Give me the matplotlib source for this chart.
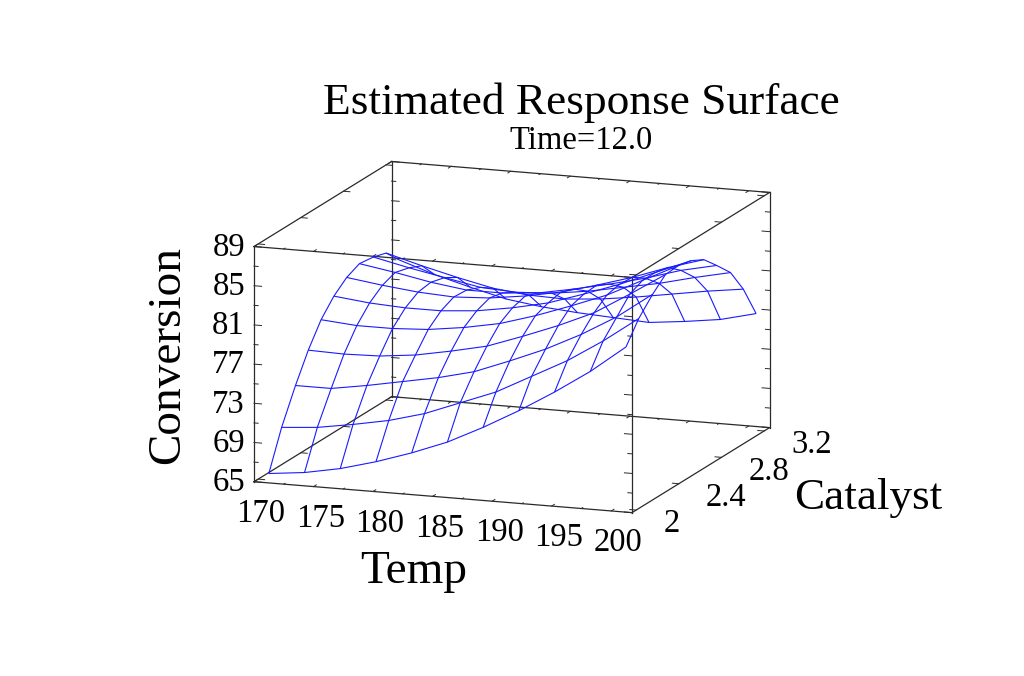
from matplotlib import pyplot as plt
from mpl_toolkits.mplot3d import proj3d
import numpy as np

plt.rcParams["font.family"] = ["Liberation Serif", "DejaVu Serif"]

temps = [170, 173, 176, 179, 182, 185, 188, 191, 194, 197, 200]
catalysts = [2.10, 2.22, 2.35, 2.47, 2.59, 2.71, 2.83, 2.95, 3.08, 3.20, 3.32]
# one row per catalyst value, one column per temp
conversion = [
    [64.9, 65.3, 66.0, 67.0, 68.2, 69.6, 71.4, 73.4, 75.6, 78.0, 80.8],
    [68.8, 69.1, 69.7, 70.4, 71.4, 72.8, 74.2, 76.1, 78.0, 80.3, 82.9],
    [72.2, 72.2, 72.8, 73.5, 74.2, 75.1, 76.5, 78.0, 79.8, 81.9, 84.5],
    [75.0, 74.9, 75.0, 75.4, 76.1, 76.9, 78.2, 79.6, 81.2, 83.4, 85.7],
    [77.3, 77.0, 77.0, 77.2, 77.7, 78.4, 79.5, 80.8, 82.2, 84.0, 85.8],
    [78.9, 78.5, 78.3, 78.3, 78.6, 79.2, 80.0, 81.2, 82.5, 84.0, 85.5],
    [80.0, 79.5, 79.1, 78.9, 79.1, 79.6, 80.3, 81.3, 82.4, 83.7, 84.8],
    [80.6, 80.0, 79.3, 78.8, 78.8, 79.1, 79.8, 80.6, 81.5, 82.6, 83.4],
    [80.4, 79.6, 78.9, 78.2, 78.0, 78.2, 78.7, 79.4, 80.1, 81.0, 81.8],
    [80.0, 79.0, 78.1, 77.3, 76.9, 76.8, 77.1, 77.6, 78.2, 78.8, 79.3],
    [78.5, 77.3, 76.3, 75.4, 74.9, 74.6, 74.4, 74.2, 74.6, 75.1, 76.0],
]

temp_ticks = [170, 175, 180, 185, 190, 195, 200]
temp_minor = [172.5, 177.5, 182.5, 187.5, 192.5, 197.5]
catalyst_ticks = [2, 2.4, 2.8, 3.2]
catalyst_labels = ["2", "2.4", "2.8", "3.2"]
conv_ticks = [65, 69, 73, 77, 81, 85, 89]
conv_minor = [67, 71, 75, 79, 83, 87]

xlim = (170, 201.75)
ylim = (1.961, 3.251)
zlim = (65, 89)

W, H = 1024, 676
EDGE = "#2a2a2a"
fig = plt.figure(figsize=(W / 100, H / 100), dpi=100)
ax = fig.add_axes([0.16, 0, H / W, 1], projection="3d", proj_type="ortho")
ax.view_init(elev=13, azim=-70)
ax.set_xlim(*xlim)
ax.set_ylim(*ylim)
ax.set_zlim(*zlim)
ax.set_box_aspect((1, 1, 0.6))
ax.set_axis_off()
ax.patch.set_alpha(0)


def to_px(x, y, z):
    xp, yp, _ = proj3d.proj_transform(x, y, z, ax.get_proj())
    return ax.transData.transform((xp, yp))


# fit the box to the reference: front bottom edge runs 254 -> 632 px
ax.apply_aspect()
width = to_px(xlim[1], ylim[0], zlim[0])[0] - to_px(xlim[0], ylim[0], zlim[0])[0]
ax.set_box_aspect((1, 1, 0.6), zoom=378 / width)
ax.apply_aspect()
corner = to_px(xlim[0], ylim[0], zlim[0])
dx = (254 - corner[0]) / W
dy = ((H - 481.7) - corner[1]) / H
pos = ax.get_position()
ax.set_position([pos.x0 + dx, pos.y0 + dy, pos.width, pos.height])
ax.apply_aspect()

T, C = np.meshgrid(temps, catalysts)
ax.plot_wireframe(T, C, np.array(conversion), color="#1a1aff", linewidth=0.8)

# box edges
for y in ylim:
    for z in zlim:
        ax.plot(xlim, [y, y], [z, z], color=EDGE, lw=0.9)
for x in xlim:
    for z in zlim:
        ax.plot([x, x], ylim, [z, z], color=EDGE, lw=0.9)
    for y in ylim:
        ax.plot([x, x], [y, y], zlim, color=EDGE, lw=0.9)

# tick marks on every edge, pointing into the face
xspan = xlim[1] - xlim[0]
yspan = ylim[1] - ylim[0]
for y, sign in ((ylim[0], 1), (ylim[1], -1)):
    for z in zlim:
        for t, ln in [(v, 0.02) for v in temp_ticks] + [(v, 0.01) for v in temp_minor]:
            ax.plot([t, t], [y, y + sign * ln * yspan], [z, z], color=EDGE, lw=0.7)
for x, sign in ((xlim[0], 1), (xlim[1], -1)):
    for z in zlim:
        for c in catalyst_ticks:
            ax.plot([x, x + sign * 0.017 * xspan], [c, c], [z, z], color=EDGE, lw=0.7)
    for y in ylim:
        for v, ln in [(v, 0.02) for v in conv_ticks] + [(v, 0.011) for v in conv_minor]:
            ax.plot([x, x + sign * ln * xspan], [y, y], [v, v], color=EDGE, lw=0.7)


def put(px, py, s, size, **kw):
    fig.text(px / W, 1 - py / H, s, fontsize=size, va="center", **kw)


for t in temp_ticks:
    p = to_px(t, ylim[0], zlim[0])
    put(p[0] + 7, H - p[1] + 32, str(t), 23.5, ha="center")
for v in conv_ticks:
    p = to_px(xlim[0], ylim[0], v)
    put(p[0] - 9, H - p[1] + 1, str(v), 23.5, ha="right")
for c, s in zip(catalyst_ticks, catalyst_labels):
    p = to_px(xlim[1], c, zlim[0])
    put(p[0] + 27, H - p[1] + 14, s, 23.5, ha="left")

put(581, 103, "Estimated Response Surface", 32.7, ha="center")
put(581, 141, "Time=12.0", 23.5, ha="center")
put(414, 572, "Temp", 34, ha="center")
put(868, 498, "Catalyst", 32.5, ha="center")
put(168, 355, "Conversion", 34, ha="center", rotation=90)

fig.savefig("out.png", dpi=100)
